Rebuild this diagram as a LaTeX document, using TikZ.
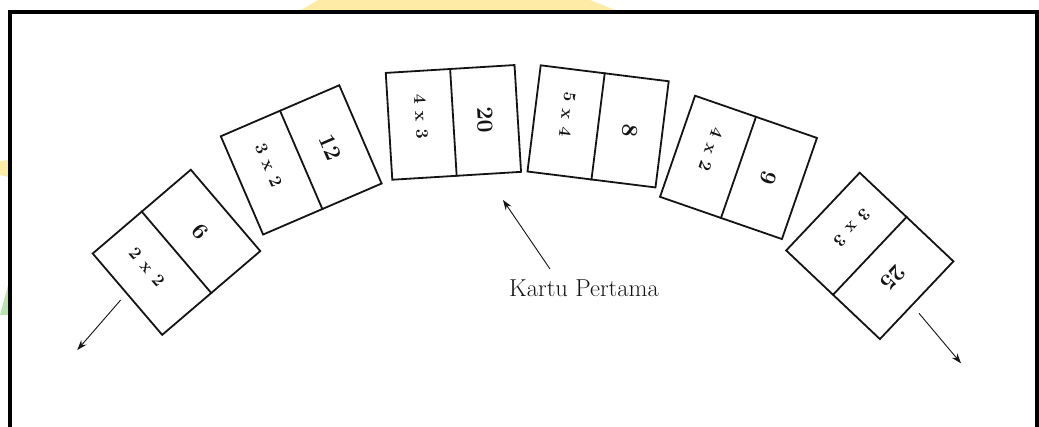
\documentclass[tikz,border=0pt]{standalone}
\usetikzlibrary{arrows.meta}
\definecolor{wmyellow}{HTML}{FDEBA6}
\definecolor{wmgreen}{HTML}{B8E6AC}
\definecolor{ink}{HTML}{141414}
\tikzset{
  card/.style={draw=ink, line width=1.8pt, rectangle, minimum width=107pt, minimum height=129pt, inner sep=0pt, transform shape},
  divider/.style={draw=ink, line width=1.8pt},
  prod/.style={font=\bfseries\fontsize{23}{25}\selectfont, inner sep=0pt, text=ink, transform shape},
  mult/.style={font=\bfseries\fontsize{17.5}{19}\selectfont, inner sep=0pt, text=ink, transform shape},
  pointer/.style={draw=ink, line width=0.9pt, -{Stealth[length=10pt,width=7pt]}},
  frameline/.style={draw=black, line width=3.8pt},
  kartulabel/.style={font=\fontsize{24.5}{28}\selectfont, text=ink, inner sep=0pt},
}
\newcommand\mycard[6]{%
  \begin{scope}[shift={(#2,#3)}, rotate=#4]
    \node[card] (#1) at (0,0) {};
    \draw[divider] (#1.west) -- (#1.east);
    \node[prod] (#1p) at (0,32) {#5};
    \node[mult] (#1m) at (-8,-32) {\spaceskip=7.5pt\relax #6};
  \end{scope}}
\begin{document}
\begin{tikzpicture}[x=1pt,y=1pt]
  \useasboundingbox (0,0) rectangle (1039,427);
  \fill[white] (0,0) rectangle (1039,427);
  % watermark fragments
  \fill[wmyellow] (318,427) -- (590,427) -- (620,415) -- (298,415) -- cycle;
  \fill[wmyellow] (0,266) -- (9,267) -- (9,250) -- (0,252) -- cycle;
  \fill[wmgreen] (0,112) -- (9,112) -- (9,145) -- cycle;
  % frame
  \draw[frameline] (10,0) -- (10,415) -- (1037,415) -- (1037,0);
  % cards
  \mycard{c1}{176.5}{174.7}{-49.5}{6}{2 x 2}
  \mycard{c2}{301.2}{267.1}{-66.7}{12}{3 x 2}
  \mycard{c3}{453.4}{304.6}{-86.5}{20}{4 x 3}
  \mycard{c4}{598.1}{300.6}{-97.1}{8}{5 x 4}
  \mycard{c5}{738.5}{259.6}{-109.1}{9}{4 x 2}
  \mycard{c6}{869.8}{171.1}{-133.4}{25}{3 x 3}
  % pointers
  \coordinate (ls) at (120.7,127);
  \coordinate (le) at (77.3,77);
  \coordinate (rs) at (919,113.7);
  \coordinate (re) at (961,63.7);
  \coordinate (ke) at (503,227);
  \node[kartulabel, anchor=base] (kp) at (584,130) {Kartu Pertama};
  \coordinate (ks) at (550,158);
  \draw[pointer] (ls) -- (le);
  \draw[pointer] (rs) -- (re);
  \draw[pointer] (ks) -- (ke);
\end{tikzpicture}
\end{document}
